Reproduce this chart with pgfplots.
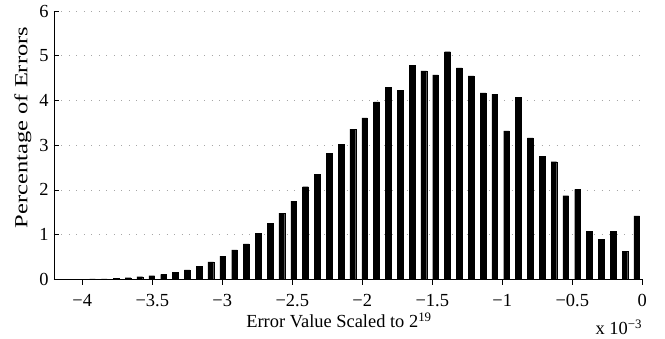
\documentclass[border=0pt]{standalone}
\usepackage{fontspec}
\setmainfont{Liberation Serif}
\usepackage{pgfplots}
\pgfplotsset{compat=1.18}
\usepackage{graphicx}
\begin{document}
\begin{tikzpicture}
\begin{axis}[
  name=ax,
  scale only axis,
  width=588.3bp, height=268.3bp,
  xmin=-4.202, xmax=0,
  ymin=0, ymax=6,
  axis lines=left,
  axis line style={-, black, line width=0.7bp},
  tick align=inside,
  major tick length=5.5bp,
  tick style={black, line width=0.6bp},
  xtick={-4,-3.5,-3,-2.5,-2,-1.5,-1,-0.5,0},
  xticklabels={−4,−3.5,−3,−2.5,−2,−1.5,−1,−0.5,0},
  ytick={0,1,2,3,4,5,6},
  /pgf/number format/assume math mode=true,
  tick label style={font=\fontsize{18.5}{20}\selectfont},
  xticklabel style={inner sep=0pt, yshift=-9.5bp},
  yticklabel style={xshift=-2bp},
  ymajorgrids,
  grid style={gray!70, line width=0.6bp, dash pattern=on 1bp off 6.5bp},
  label style={font=\fontsize{18.5}{20}\selectfont},
  xlabel={Error Value Scaled to 2\smash{\textsuperscript{19}}},
  xlabel style={at={(rel axis cs:0.4844,0)}, anchor=base, inner sep=0pt, yshift=-48bp},
  ylabel={\scalebox{1.33}[1]{Percentage of Errors}},
  ylabel style={at={(rel axis cs:0,0.566)}, anchor=center, yshift=31bp},
  ybar, bar width=5.7bp, bar shift=0pt,
  clip=false,
]
\addplot[fill=black, draw=black, line width=0.2bp] coordinates {
(-4.1805,0.004) (-4.0960,0.005) (-4.0115,0.006) (-3.9270,0.008) (-3.8425,0.012)
(-3.7580,0.02) (-3.6735,0.036) (-3.5890,0.058) (-3.5045,0.08) (-3.4200,0.11)
(-3.3355,0.16) (-3.2510,0.21) (-3.1665,0.29) (-3.0820,0.39) (-2.9975,0.52)
(-2.9130,0.66) (-2.8285,0.79) (-2.7440,1.03) (-2.6595,1.25) (-2.5750,1.48)
(-2.4905,1.75) (-2.4060,2.07) (-2.3215,2.35) (-2.2370,2.82) (-2.1525,3.02)
(-2.0680,3.36) (-1.9835,3.61) (-1.8990,3.97) (-1.8145,4.30) (-1.7300,4.23)
(-1.6455,4.78) (-1.5610,4.66) (-1.4765,4.57) (-1.3920,5.09) (-1.3075,4.73)
(-1.2230,4.55) (-1.1385,4.17) (-1.0540,4.14) (-0.9695,3.32) (-0.8850,4.07)
(-0.8005,3.16) (-0.7160,2.75) (-0.6315,2.63) (-0.5470,1.87) (-0.4625,2.01)
(-0.3780,1.08) (-0.2935,0.90) (-0.2090,1.07) (-0.1245,0.63) (-0.0400,1.42)
};
\end{axis}
\node[anchor=base east, inner sep=0pt, font=\fontsize{18.5}{20}\selectfont] at ([yshift=-55.5bp]ax.south east) {x 10\textsuperscript{−3}};
\pgfresetboundingbox
\path (ax.south west) ++(-54bp,-59.7bp) rectangle ++(665bp,339bp);
\end{tikzpicture}
\end{document}
